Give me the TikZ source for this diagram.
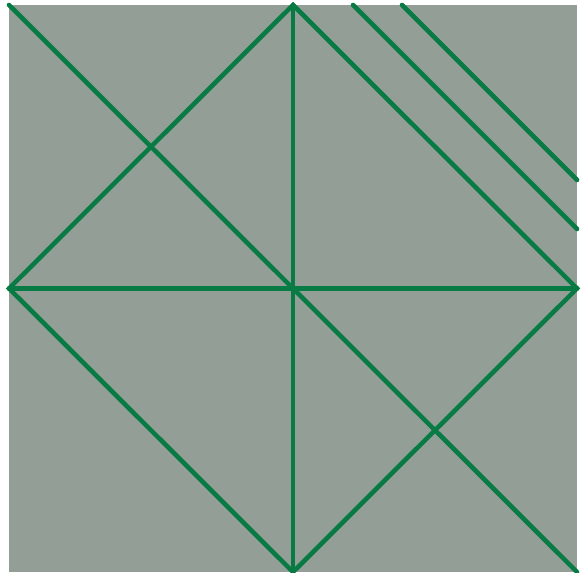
\documentclass[tikz,border=0pt]{standalone}
\usetikzlibrary{calc}

\definecolor{paper}{RGB}{146,158,150}
\definecolor{crease}{RGB}{8,122,68}

\begin{document}
\begin{tikzpicture}[
  sheet/.style={fill=paper, draw=none},
  fold/.style={draw=crease, line width=1.3pt, line cap=round}
]
  \useasboundingbox (0,0) rectangle (5.81,5.72);

  % corners and midpoints of the sheet
  \coordinate (bl) at (0.09,0.00);
  \coordinate (tr) at (5.77,5.67);
  \coordinate (tl) at (bl |- tr);
  \coordinate (br) at (tr |- bl);
  \coordinate (c)  at ($(bl)!0.5!(tr)$);
  \coordinate (top)    at (c |- tr);
  \coordinate (bottom) at (c |- bl);
  \coordinate (left)   at (bl |- c);
  \coordinate (right)  at (tr |- c);

  % the two short strips in the upper right
  \coordinate (s1a) at ($(tr)+(-1.75,0)$);
  \coordinate (s1b) at ($(tr)+(0,-1.75)$);
  \coordinate (s2a) at ($(tr)+(-2.24,0)$);
  \coordinate (s2b) at ($(tr)+(0,-2.24)$);

  \fill[sheet] (bl) rectangle (tr);

  \draw[fold] (tl) -- (br);
  \draw[fold] (top) -- (bottom);
  \draw[fold] (left) -- (right);
  \draw[fold] (top) -- (left) -- (bottom) -- (right) -- cycle;
  \draw[fold] (s1a) -- (s1b);
  \draw[fold] (s2a) -- (s2b);
\end{tikzpicture}
\end{document}
